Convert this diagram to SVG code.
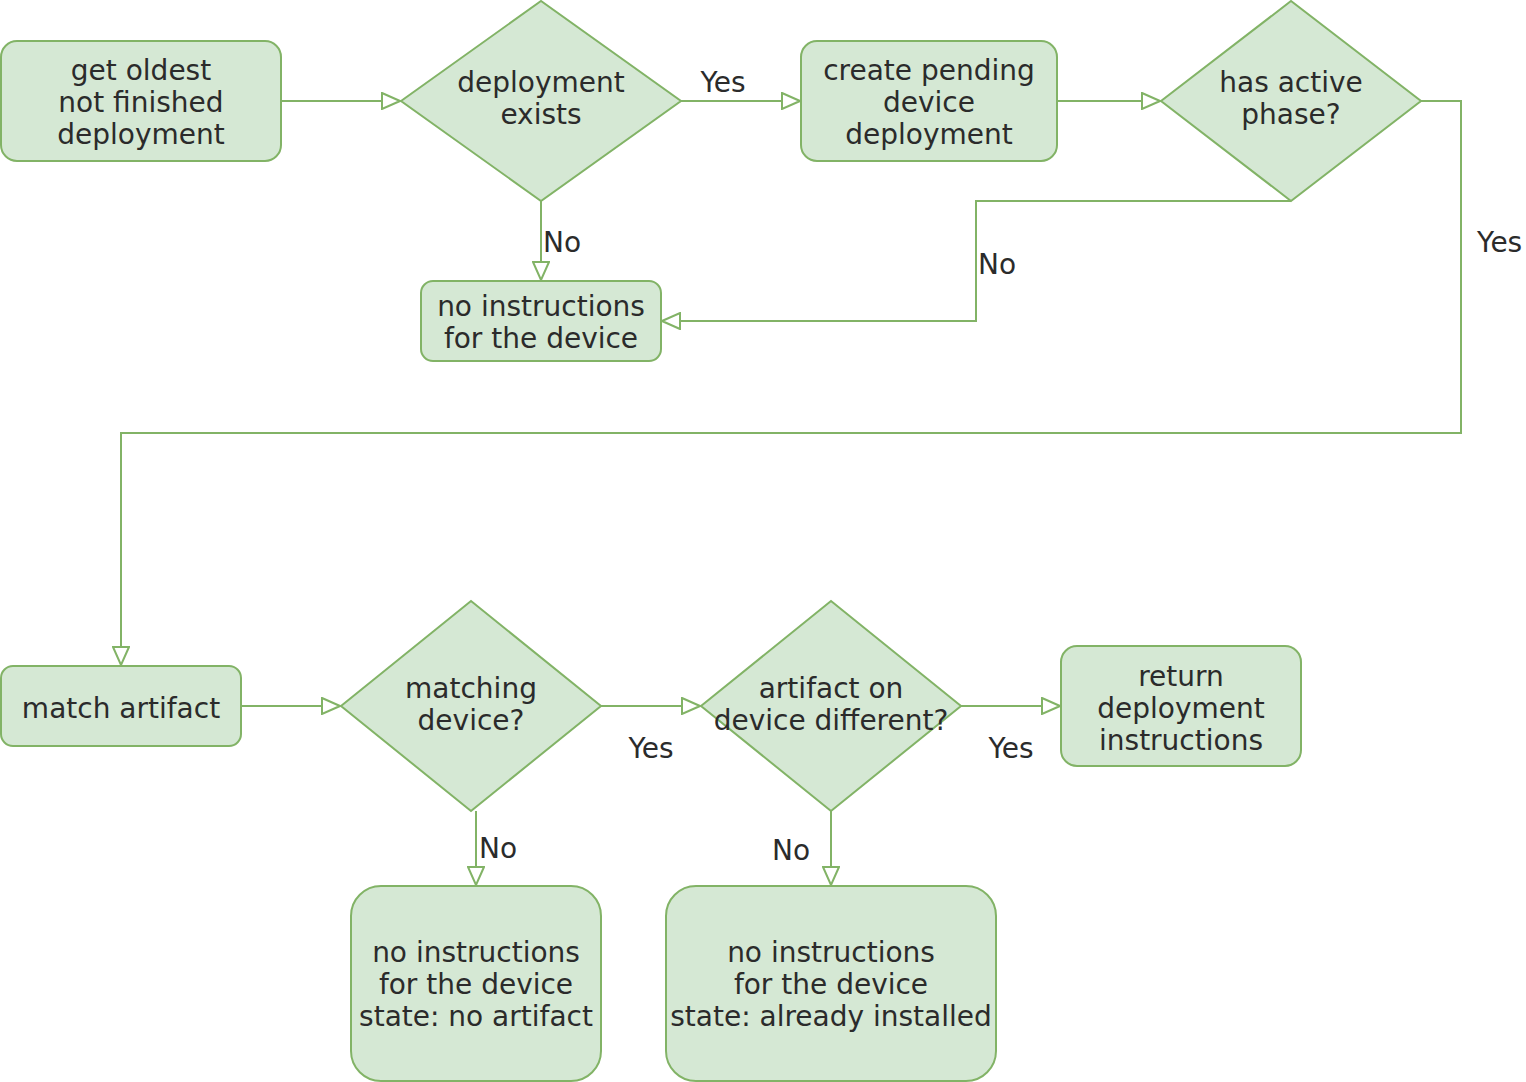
<svg xmlns="http://www.w3.org/2000/svg" width="1526" height="1082" viewBox="0 0 1526 1082">
<style>
.n{fill:#d5e8d4;stroke:#82b366;stroke-width:2}
.e{fill:none;stroke:#82b366;stroke-width:2}
text{font-family:"DejaVu Sans",Verdana,sans-serif;font-size:28px;fill:#2b2b2b;text-anchor:middle}
.l{text-anchor:start}
</style>
<defs>
<marker id="a" viewBox="0 0 20 18" refX="19" refY="9" markerWidth="20" markerHeight="18" markerUnits="userSpaceOnUse" orient="auto">
<path d="M1,1 L19,9 L1,17 Z" fill="#fff" stroke="#82b366" stroke-width="2"/>
</marker>
</defs>
<g id="connectors">
<path class="e" d="M281,101 H400" marker-end="url(#a)"/>
<path class="e" d="M681,101 H800" marker-end="url(#a)"/>
<path class="e" d="M541,201 V280" marker-end="url(#a)"/>
<path class="e" d="M1057,101 H1160" marker-end="url(#a)"/>
<path class="e" d="M1291,201 H976 V321 H662" marker-end="url(#a)"/>
<path class="e" d="M1421,101 H1461 V433 H121 V665" marker-end="url(#a)"/>
<path class="e" d="M241,706 H340" marker-end="url(#a)"/>
<path class="e" d="M601,706 H700" marker-end="url(#a)"/>
<path class="e" d="M961,706 H1060" marker-end="url(#a)"/>
<path class="e" d="M476,811 V885" marker-end="url(#a)"/>
<path class="e" d="M831,811 V885" marker-end="url(#a)"/>
<text x="723" y="92">Yes</text>
<text class="l" x="543" y="252">No</text>
<text class="l" x="978" y="274">No</text>
<text class="l" x="1477" y="252">Yes</text>
<text class="l" x="479" y="858">No</text>
<text x="791" y="860">No</text>
<text x="651" y="758">Yes</text>
<text x="1011" y="758">Yes</text>
</g>
<g id="n1"><rect class="n" x="1" y="41" width="280" height="120" rx="16"/><text x="141" y="80">get oldest</text><text x="141" y="112">not finished</text><text x="141" y="144">deployment</text></g>
<g id="d1"><path class="n" d="M401,101 L541,1 L681,101 L541,201 Z"/><text x="541" y="92">deployment</text><text x="541" y="124">exists</text></g>
<g id="n2"><rect class="n" x="801" y="41" width="256" height="120" rx="16"/><text x="929" y="80">create pending</text><text x="929" y="112">device</text><text x="929" y="144">deployment</text></g>
<g id="d2"><path class="n" d="M1161,101 L1291,1 L1421,101 L1291,201 Z"/><text x="1291" y="92">has active</text><text x="1291" y="124">phase?</text></g>
<g id="n3"><rect class="n" x="421" y="281" width="240" height="80" rx="12"/><text x="541" y="316">no instructions</text><text x="541" y="348">for the device</text></g>
<g id="n4"><rect class="n" x="1" y="666" width="240" height="80" rx="12"/><text x="121" y="718">match artifact</text></g>
<g id="d3"><path class="n" d="M341,706 L471,601 L601,706 L471,811 Z"/><text x="471" y="698">matching</text><text x="471" y="730">device?</text></g>
<g id="d4"><path class="n" d="M701,706 L831,601 L961,706 L831,811 Z"/><text x="831" y="698">artifact on</text><text x="831" y="730">device different?</text></g>
<g id="n5"><rect class="n" x="1061" y="646" width="240" height="120" rx="16"/><text x="1181" y="686">return</text><text x="1181" y="718">deployment</text><text x="1181" y="750">instructions</text></g>
<g id="n6"><rect class="n" x="351" y="886" width="250" height="195" rx="30"/><text x="476" y="962">no instructions</text><text x="476" y="994">for the device</text><text x="476" y="1026">state: no artifact</text></g>
<g id="n7"><rect class="n" x="666" y="886" width="330" height="195" rx="30"/><text x="831" y="962">no instructions</text><text x="831" y="994">for the device</text><text x="831" y="1026">state: already installed</text></g>
</svg>
